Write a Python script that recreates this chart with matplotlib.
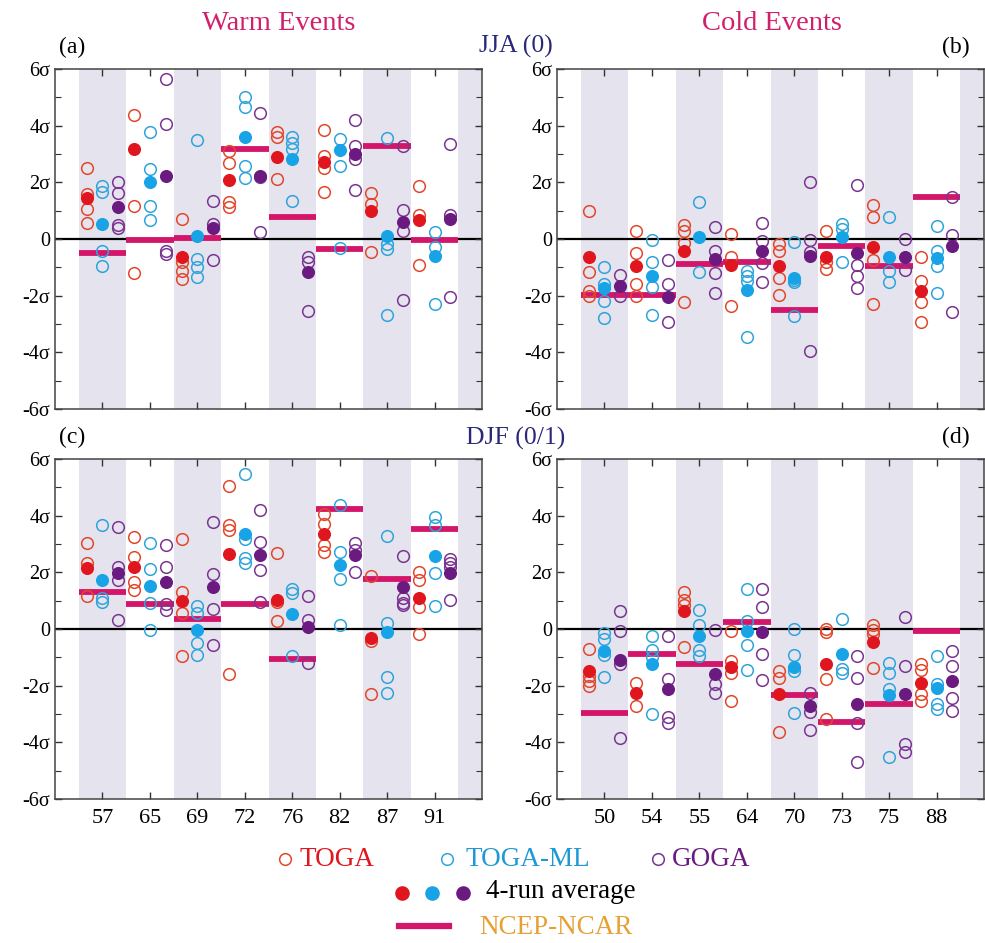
import matplotlib.pyplot as plt
import numpy as np
from matplotlib.lines import Line2D

plt.rcParams['font.family'] = ['Liberation Serif', 'DejaVu Serif']

# ---------------- data (values in sigma units) ----------------
warm_years = ["57", "65", "69", "72", "76", "82", "87", "91"]
cold_years = ["50", "54", "55", "64", "70", "73", "75", "88"]

# (a) warm, JJA(0)
a_toga = [[2.5, 1.6, 1.05, 0.55], [4.38, 1.18, -1.2], [0.71, -0.82, -1.12, -1.41],
          [3.12, 2.7, 1.29, 1.12], [3.76, 3.6, 2.12], [3.86, 2.94, 2.49, 1.67],
          [1.62, 1.24, -0.47], [1.86, 0.85, -0.92]]
a_toga_avg = [1.45, 3.18, -0.65, 2.08, 2.9, 2.73, 1.0, 0.68]
a_ml = [[1.88, 1.65, -0.41, -0.94], [3.76, 2.47, 1.18, 0.68], [3.5, -0.71, -1.0, -1.35],
        [5.0, 4.65, 2.59, 2.14], [3.59, 3.39, 3.18, 1.35], [3.53, 2.56, -0.33],
        [3.56, -0.18, -0.35, -2.67], [0.26, -0.29, -2.29]]
a_ml_avg = [0.53, 2.0, 0.12, 3.59, 2.82, 3.15, 0.09, -0.59]
a_goga = [[2.0, 1.62, 0.5, 0.4], [5.65, 4.06, -0.41, -0.53], [1.33, 0.53, -0.73],
          [4.45, 2.18, 0.26], [-0.65, -0.82, -2.53], [4.2, 3.29, 2.82, 1.73],
          [3.29, 1.02, 0.29, -2.14], [3.35, 0.85, -2.06]]
a_goga_avg = [1.12, 2.24, 0.38, 2.24, -1.18, 3.0, 0.61, 0.71]
a_ncep = [-0.51, -0.04, 0.04, 3.18, 0.76, -0.35, 3.29, -0.02]

# (b) cold, JJA(0)
b_toga = [[0.98, -1.15, -1.82, -2.0], [0.27, -0.49, -1.59, -2.0], [0.51, 0.29, -0.14, -2.24],
          [0.18, -0.65, -2.35], [-0.18, -0.41, -1.39, -1.98], [0.29, -0.82, -1.06],
          [1.2, 0.76, -0.73, -2.29], [-0.65, -1.47, -2.24, -2.94]]
b_toga_avg = [-0.65, -0.94, -0.41, -0.92, -0.96, -0.65, -0.29, -1.82]
b_ml = [[-1.0, -2.18, -2.8, -1.6], [-0.02, -0.8, -1.71, -2.67], [1.32, -1.15],
        [-1.12, -1.29, -1.47, -3.47], [-0.09, -1.53, -2.71, -1.45], [0.53, 0.35, -0.82],
        [0.76, -1.12, -1.53], [0.47, -0.41, -0.94, -1.9]]
b_ml_avg = [-1.74, -1.32, 0.08, -1.8, -1.39, 0.06, -0.65, -0.68]
b_goga = [[-1.27, -2.0], [-0.73, -1.59, -2.94], [0.44, -0.41, -1.2, -1.92],
          [0.56, -0.06, -0.86, -1.53], [2.02, -0.02, -0.45, -3.94], [1.9, -0.92, -1.29, -1.74],
          [0.0, -1.08], [1.47, 0.14, -2.59]]
b_goga_avg = [-1.67, -2.06, -0.71, -0.44, -0.59, -0.49, -0.65, -0.24]
b_ncep = [-1.98, -1.98, -0.88, -0.82, -2.5, -0.24, -0.94, 1.49]

# (c) warm, DJF(0/1)
c_toga = [[3.02, 2.32, 1.15], [3.23, 2.55, 1.67, 1.38], [3.19, 1.29, 0.56, -0.96],
          [5.03, 3.66, 3.51, -1.6], [2.67, 0.97, 0.3], [4.07, 3.72, 2.96, 2.73],
          [1.88, -0.42, -2.3], [2.02, 1.73, 0.77, -0.16]]
c_toga_avg = [2.14, 2.2, 1.0, 2.64, 1.03, 3.37, -0.32, 1.09]
c_ml = [[3.66, 1.09, 0.97], [3.02, 2.11, 0.91, -0.02], [0.8, 0.56, -0.49, -0.9],
        [5.47, 3.19, 2.49, 2.32], [1.4, 1.26, -0.96], [4.36, 2.73, 1.77, 0.15],
        [3.27, 0.21, -1.68, -2.25], [3.95, 3.66, 1.96, 0.8]]
c_ml_avg = [1.73, 1.52, -0.02, 3.37, 0.53, 2.26, -0.12, 2.57]
c_goga = [[3.6, 2.2, 1.73, 0.33], [2.96, 2.18, 0.68, 0.9], [3.78, 1.94, 0.7, -0.55],
          [4.21, 3.08, 2.08, 0.97], [1.15, 0.33, -1.19], [3.02, 2.02, 2.8],
          [2.57, 1.09, 0.91, 0.85], [2.46, 2.32, 2.2, 1.03]]
c_goga_avg = [1.96, 1.67, 1.47, 2.61, 0.07, 2.61, 1.5, 1.96]
c_ncep = [1.32, 0.89, 0.35, 0.89, -1.05, 4.25, 1.77, 3.52]

# (d) cold, DJF(0/1)
d_toga = [[-0.7, -1.66, -1.84, -2.01], [-1.89, -2.71], [1.29, 1.03, 0.85, -0.63],
          [-0.08, -1.13, -1.54, -2.54], [-1.49, -1.72, -3.65], [0.0, -0.12, -1.75, -3.16],
          [0.15, -0.02, -0.16, -1.37], [-1.25, -1.43, -2.3, -2.54]]
d_toga_avg = [-1.49, -2.25, 0.62, -1.33, -2.3, -1.25, -0.47, -1.89]
d_ml = [[-0.14, -0.35, -0.9, -1.68], [-0.26, -0.73, -1.0, -3.0], [0.68, 0.15, -0.73, -0.96],
        [1.4, 0.27, -0.58, -1.45], [0.0, -0.9, -1.49, -2.95], [0.35, -1.4, -1.54],
        [-1.19, -1.54, -2.11, -4.53], [-0.94, -1.95, -2.65, -2.83]]
d_ml_avg = [-0.78, -1.25, -0.26, -0.08, -1.33, -0.87, -2.34, -2.07]
d_goga = [[0.62, -0.08, -1.25, -3.86], [-0.26, -1.78, -3.09, -3.32], [-0.02, -1.95, -2.25],
          [1.4, 0.76, -0.87, -1.8], [-2.25, -2.92, -3.57], [-0.96, -1.72, -3.3, -4.68],
          [0.44, -1.29, -4.06, -4.33], [-0.76, -1.29, -2.42, -2.89]]
d_goga_avg = [-1.1, -2.13, -1.6, -0.12, -2.71, -2.65, -2.3, -1.84]
d_ncep = [-2.97, -0.87, -1.25, 0.23, -2.34, -3.27, -2.65, -0.08]

# ---------------- style ----------------
shade = "#e5e3ee"
bar_col = "#d4166a"
toga_open, toga_fill = "#e2472a", "#e0161f"
ml_open, ml_fill = "#2ea4dc", "#17a3e6"
goga_open, goga_fill = "#7a3491", "#6b1b7f"
navy = "#2a2878"
title_col = "#d1206b"

W, H = 985, 943
fig = plt.figure(figsize=(W / 100, H / 100), dpi=100)


def px_axes(left, top, right, bottom):
    return fig.add_axes([left / W, 1 - bottom / H, (right - left) / W, (bottom - top) / H])


def draw(ax, labels, toga, toga_avg, ml, ml_avg, goga, goga_avg, ncep, show_x):
    n = len(labels)
    x = np.arange(1, n + 1)
    for i in range(1, n + 2, 2):
        ax.axvspan(i - 0.5, i + 0.5, color=shade, lw=0, zorder=0)
    ax.axhline(0, color="black", lw=1.6, zorder=1)
    ax.hlines(ncep, x - 0.5, x + 0.5, color=bar_col, lw=4.2, zorder=2)
    for off, vals, avg, oc, fc in [(-0.33, toga, toga_avg, toga_open, toga_fill),
                                   (0.0, ml, ml_avg, ml_open, ml_fill),
                                   (0.33, goga, goga_avg, goga_open, goga_fill)]:
        for xi, v in zip(x, vals):
            ax.plot(np.full(len(v), xi + off), v, "o", ms=8.4, mfc="none",
                    mec=oc, mew=1.1, zorder=3)
        ax.plot(x + off, avg, "o", ms=8.4, mfc=fc, mec=fc, zorder=4)
    ax.set_xlim(0, 9)
    ax.set_ylim(-6, 6)
    ax.set_xticks(x)
    ax.set_xticklabels(labels if show_x else [])
    ax.set_yticks(np.arange(-6, 7, 2))
    ax.set_yticks(np.arange(-6, 7, 1), minor=True)
    ax.set_yticklabels([f"{v}σ" if v != 0 else "0" for v in range(-6, 7, 2)])
    ax.tick_params(which="both", direction="in", top=True, right=True,
                   color="#333333", labelsize=14.5)
    ax.tick_params(axis="x", labelsize=16, pad=7)
    ax.tick_params(which="major", length=5, width=1)
    ax.tick_params(which="minor", length=4, width=0.8)
    for s in ax.spines.values():
        s.set_color("#444444")
        s.set_linewidth(1.1)


ax_a = px_axes(55, 69, 482, 409)
ax_b = px_axes(557, 69, 984, 409)
ax_c = px_axes(55, 459, 482, 799)
ax_d = px_axes(557, 459, 984, 799)

draw(ax_a, warm_years, a_toga, a_toga_avg, a_ml, a_ml_avg, a_goga, a_goga_avg, a_ncep, False)
draw(ax_b, cold_years, b_toga, b_toga_avg, b_ml, b_ml_avg, b_goga, b_goga_avg, b_ncep, False)
draw(ax_c, warm_years, c_toga, c_toga_avg, c_ml, c_ml_avg, c_goga, c_goga_avg, c_ncep, True)
draw(ax_d, cold_years, d_toga, d_toga_avg, d_ml, d_ml_avg, d_goga, d_goga_avg, d_ncep, True)


def ftext(x, y, s, **kw):
    fig.text(x / W, 1 - y / H, s, ha="center", va="center", **kw)


ftext(279, 23, "Warm Events", color=title_col, fontsize=20.5)
ftext(772, 23, "Cold Events", color=title_col, fontsize=20.5)
ftext(516, 46, "JJA (0)", color=navy, fontsize=18.5)
ftext(516, 438, "DJF (0/1)", color=navy, fontsize=18.5)
ftext(72, 47, "(a)", fontsize=17)
ftext(956, 47, "(b)", fontsize=17)
ftext(72, 437, "(c)", fontsize=17)
ftext(956, 437, "(d)", fontsize=17)

# ---------------- legend (pixel coordinates) ----------------
lg = fig.add_axes([0, 0, 1, 1])
lg.set_xlim(0, W)
lg.set_ylim(H, 0)
lg.axis("off")
fs = 19.5
lg.plot([285], [859], "o", ms=8.4, mfc="none", mec=toga_open, mew=1.1)
lg.text(300, 859, "TOGA", color=toga_fill, fontsize=fs, va="center")
lg.plot([447], [859], "o", ms=8.4, mfc="none", mec=ml_open, mew=1.1)
lg.text(465, 859, "TOGA-ML", color="#1f98d6", fontsize=fs, va="center")
lg.plot([658], [859], "o", ms=8.4, mfc="none", mec=goga_open, mew=1.1)
lg.text(672, 859, "GOGA", color=goga_fill, fontsize=fs, va="center")
for xx, c in [(402, toga_fill), (432, ml_fill), (463, goga_fill)]:
    lg.plot([xx], [893], "o", ms=9.5, mfc=c, mec=c)
lg.text(486, 892, "4-run average", color="black", fontsize=fs, va="center")
lg.add_line(Line2D([399, 449], [926, 926], color=bar_col, lw=4.5))
lg.text(479, 927, "NCEP-NCAR", color="#e6a033", fontsize=fs, va="center")

fig.savefig("out.png", dpi=100)
